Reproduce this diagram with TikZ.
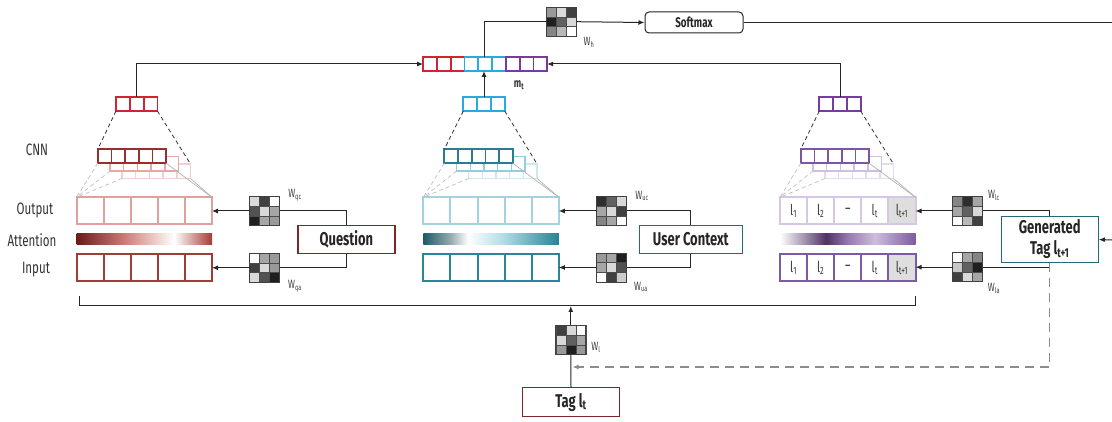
\documentclass[tikz,border=0pt]{standalone}
\usepackage{fontspec}
\setmainfont{Fira Sans}[FakeStretch=0.7]
\usetikzlibrary{arrows.meta}

\definecolor{rTop}{RGB}{210,35,50}
\definecolor{rC1}{RGB}{155,45,45}
\definecolor{rC2}{RGB}{228,168,165}
\definecolor{rC3}{RGB}{242,208,205}
\definecolor{rOut}{RGB}{225,160,155}
\definecolor{rIn}{RGB}{160,60,55}
\definecolor{rBox}{RGB}{125,40,40}
\definecolor{rA1}{RGB}{105,28,28}
\definecolor{rA2}{RGB}{200,120,115}
\definecolor{rA3}{RGB}{238,205,200}
\definecolor{rA4}{RGB}{165,60,55}

\definecolor{bTop}{RGB}{40,170,225}
\definecolor{bC1}{RGB}{40,125,145}
\definecolor{bC2}{RGB}{150,205,220}
\definecolor{bC3}{RGB}{205,232,240}
\definecolor{bOut}{RGB}{160,212,225}
\definecolor{bIn}{RGB}{40,135,155}
\definecolor{bBox}{RGB}{35,105,120}
\definecolor{bA1}{RGB}{30,90,105}
\definecolor{bA2}{RGB}{150,170,175}
\definecolor{bA3}{RGB}{175,218,228}
\definecolor{bA4}{RGB}{40,130,150}

\definecolor{pTop}{RGB}{120,60,160}
\definecolor{pC1}{RGB}{125,85,165}
\definecolor{pC2}{RGB}{205,192,225}
\definecolor{pC3}{RGB}{228,220,238}
\definecolor{pOut}{RGB}{212,200,228}
\definecolor{pIn}{RGB}{125,90,165}
\definecolor{pA1}{RGB}{80,50,100}
\definecolor{pA2}{RGB}{150,120,175}
\definecolor{pA3}{RGB}{205,190,220}
\definecolor{pA4}{RGB}{125,90,160}
\definecolor{cellgray}{RGB}{222,222,222}

\pgfdeclarehorizontalshading{shq}{100bp}{color(0bp)=(rA1); color(25bp)=(rA1); color(42bp)=(rA2); color(54bp)=(rA3); color(61bp)=(white); color(75bp)=(rA4); color(100bp)=(rA4)}
\pgfdeclarehorizontalshading{shu}{100bp}{color(0bp)=(bA1); color(25bp)=(bA1); color(35bp)=(bA2); color(41.5bp)=(white); color(55bp)=(bA3); color(75bp)=(bA4); color(100bp)=(bA4)}
\pgfdeclarehorizontalshading{shl}{100bp}{color(0bp)=(white); color(25bp)=(white); color(42bp)=(pA1); color(50bp)=(pA2); color(60bp)=(pA3); color(75bp)=(pA4); color(100bp)=(pA4)}

\newcommand{\wmat}[4]{%
 \node[wbox] (#1) at (#2,#3) {};
 \foreach \vv [count=\ii from 0] in {#4}{%
  \pgfmathtruncatemacro{\mrow}{\ii/3}%
  \pgfmathtruncatemacro{\mcol}{\ii-3*\mrow}%
  \filldraw[fill=black!\vv, draw=black!70, line width=0.5pt] ({#2-15+10*\mcol},{#3-14.5+9.667*\mrow}) rectangle ++(10,9.667);
 }%
 \draw[black!75, line width=0.9pt] (#1.north west) rectangle (#1.south east);
}
\newcommand{\vecn}[7]{%
 \node[inner sep=0pt,outer sep=0pt,minimum width={#4*#5*1pt},minimum height={#6*1pt},anchor=north west] (#1) at (#2,#3) {};
 \foreach \kk in {1,...,#4}{\draw[#7] ({#2+(\kk-1)*#5},#3) rectangle ({#2+\kk*#5},{#3+#6});}
}

\tikzset{
 arr/.style={-{Latex[length=6pt,width=5pt]}, line width=1pt, draw=black!85},
 conn/.style={line width=1pt, draw=black!85},
 wbox/.style={inner sep=0pt, outer sep=0pt, minimum width=30pt, minimum height=29pt},
 lbl/.style={font=\fontsize{16.5}{17}\selectfont, text=black!80, inner sep=0pt},
 wlbl/.style={font=\fontsize{12}{13}\selectfont, text=black!75, inner sep=0pt},
 cell/.style={font=\fontsize{15}{16}\selectfont, text=black!80, inner sep=0pt},
 tbox/.style={draw, line width=1.2pt, fill=white, font=\fontsize{18.5}{21}\selectfont\bfseries, text=black!85, inner sep=0pt},
 cnndash/.style={dash pattern=on 4pt off 3pt, line width=0.8pt, draw=black!80},
 ltdash/.style={dash pattern=on 4pt off 3pt, line width=0.7pt, draw=black!25},
 ltline/.style={line width=0.7pt, draw=black!30},
 gdash/.style={dash pattern=on 9pt off 6pt, line width=1.2pt, draw=black!45},
 bar/.style={inner sep=0pt, outer sep=0pt, minimum width=135.5pt, minimum height=11pt, anchor=north west, shade},
}

\begin{document}
\begin{tikzpicture}[x=1pt,y=-1pt]
\useasboundingbox (0,0) rectangle (1112,422);

% ---------- labels left ----------
\node[lbl] (lcnn) at (37,150) {CNN};
\node[lbl] (lout) at (35,210) {Output};
\node[lbl] (latt) at (32,240.5) {Attention};
\node[lbl] (lin) at (36,269.5) {Input};

% ---------- column nodes ----------
\vecn{outq}{76.5}{197.3}{5}{27.1}{27}{draw=rOut, line width=2pt}
\vecn{inq}{76.5}{254}{5}{27.1}{27}{draw=rIn, line width=2pt}
\node[bar, shading=shq] (barq) at (76.5,234) {};

\vecn{outu}{423.3}{197.3}{5}{27.1}{27}{draw=bOut, line width=2pt}
\vecn{inu}{423.3}{254}{5}{27.1}{27}{draw=bIn, line width=2pt}
\node[bar, shading=shu] (baru) at (423.3,234) {};

\vecn{outl}{780}{197.3}{5}{27.1}{27}{draw=pOut, line width=2pt}
\filldraw[fill=cellgray, draw=pOut, line width=2pt] (888.4,197.3) rectangle (915.5,224.3);
\vecn{inl}{780}{254}{5}{27.1}{27}{draw=pIn, line width=2pt}
\filldraw[fill=cellgray, draw=pIn, line width=2pt] (888.4,254) rectangle (915.5,281);
\node[bar, shading=shl] (barl) at (780,234) {};

\foreach \xx/\tt [count=\nn] in {793.55/l\textsubscript{1}, 820.65/l\textsubscript{2}, 847.75/--, 874.85/l\textsubscript{t}, 901.95/l\textsubscript{t+1}}{
  \node[cell] (po\nn) at (\xx,211) {\tt};
  \node[cell] (pi\nn) at (\xx,267.8) {\tt};
}

% ---------- CNN stacks ----------
\vecn{cq3}{122}{164}{5}{13.7}{14.5}{draw=rC3, fill=white, line width=1.5pt}
\vecn{cq2}{110}{156.5}{5}{13.7}{14.5}{draw=rC2, fill=white, line width=1.5pt}
\vecn{cq1}{97.7}{149.3}{5}{13.7}{14}{draw=rC1, fill=white, line width=1.8pt}

\vecn{cu3}{468.6}{164}{5}{13.7}{14.5}{draw=bC3, fill=white, line width=1.5pt}
\vecn{cu2}{456.6}{156.5}{5}{13.7}{14.5}{draw=bC2, fill=white, line width=1.5pt}
\vecn{cu1}{444.3}{149.3}{5}{13.7}{14}{draw=bC1, fill=white, line width=1.8pt}

\vecn{cl3}{825}{164}{5}{13.7}{14.5}{draw=pC3, fill=white, line width=1.5pt}
\vecn{cl2}{813}{156.5}{5}{13.7}{14.5}{draw=pC2, fill=white, line width=1.5pt}
\vecn{cl1}{800.7}{149.3}{5}{13.7}{14}{draw=pC1, fill=white, line width=1.8pt}

% light lines CNN -> output
\foreach \cc/\oo in {cq/outq, cu/outu, cl/outl}{
  \draw[ltdash] (\cc1.south west) -- (\oo.north west);
  \draw[ltdash] (\cc2.south west) -- (\oo.north west);
  \draw[ltdash] (\cc3.south west) -- (\oo.north west);
  \draw[ltline] (\cc1.south east) -- (\oo.north east);
  \draw[ltline] (\cc3.south east) -- (\oo.north east);
}

% ---------- top vectors ----------
\vecn{topq}{116}{97}{3}{13.8}{14}{draw=rTop, fill=white, line width=1.8pt}
\vecn{topu}{463.3}{97}{3}{13.8}{14}{draw=bTop, fill=white, line width=1.8pt}
\vecn{topl}{819.3}{97}{3}{13.8}{14}{draw=pTop, fill=white, line width=1.8pt}

\draw[cnndash] (topq.south west) -- (cq1.north west);
\draw[cnndash] (topq.south east) -- (cq3.north east);
\draw[cnndash] (topu.south west) -- (cu1.north west);
\draw[cnndash] (topu.south east) -- (cu3.north east);
\draw[cnndash] (topl.south west) -- (cl1.north west);
\draw[cnndash] (topl.south east) -- (cl3.north east);

% ---------- m_t ----------
\node[inner sep=0pt, outer sep=0pt, minimum width=124.2pt, minimum height=14pt, anchor=north west] (mt) at (423,57) {};
\foreach \col [count=\kk] in {rTop,rTop,rTop,bTop,bTop,bTop,pTop,pTop,pTop}
  \draw[draw=\col, line width=1.8pt, fill=white] ({423+(\kk-1)*13.8},57) rectangle ({423+\kk*13.8},71);
\node[font=\fontsize{12.5}{13}\selectfont\bfseries, text=black!80, inner sep=0pt] (mtl) at (519,85) {m\textsubscript{t}};

% ---------- W matrices ----------
\wmat{wh}{561.5}{21.7}{40,15,75,88,62,15,48,28,0}
\wmat{wqc}{264.5}{211}{15,75,0,68,15,35,88,35,40}
\wmat{wqa}{264.5}{267.8}{0,35,40,75,15,40,15,68,88}
\wmat{wuc}{611.7}{211}{82,62,15,35,15,75,48,35,0}
\wmat{wua}{611.7}{267.5}{40,35,88,35,15,68,0,75,20}
\wmat{wlc}{967.7}{211}{48,82,35,35,62,15,0,28,75}
\wmat{wla}{967.7}{267.2}{0,35,48,22,62,88,75,15,35}
\wmat{wl}{570.8}{340}{75,15,0,15,62,35,40,88,40}

\node[wlbl] (lwh) at (589,42) {W\textsubscript{h}};
\node[wlbl] (lwqc) at (295,195) {W\textsubscript{qc}};
\node[wlbl] (lwqa) at (295,286) {W\textsubscript{qa}};
\node[wlbl] (lwuc) at (642,196) {W\textsubscript{uc}};
\node[wlbl] (lwua) at (641,287) {W\textsubscript{ua}};
\node[wlbl] (lwlc) at (994,195) {W\textsubscript{lc}};
\node[wlbl] (lwla) at (994,288) {W\textsubscript{la}};
\node[wlbl] (lwl) at (596,347) {W\textsubscript{l}};

% ---------- boxes ----------
\node[tbox, rounded corners=4pt, line width=1pt, draw=black!85, minimum width=98pt, minimum height=21pt, font=\fontsize{14}{15}\selectfont\bfseries] (softmax) at (694,22.5) {Softmax};
\node[tbox, draw=rBox, minimum width=97pt, minimum height=28pt] (question) at (346.4,239.2) {Question};
\node[tbox, draw=bBox, minimum width=103pt, minimum height=28pt] (uctx) at (690.8,239.2) {User Context};
\node[tbox, draw=bBox, minimum width=97pt, minimum height=45.6pt, align=center] (gen) at (1049.7,239.5) {Generated\\Tag l\textsubscript{t+1}};
\node[tbox, draw=rBox, minimum width=96.6pt, minimum height=29pt] (taglt) at (571,402.2) {Tag l\textsubscript{t}};

% ---------- connectors ----------
\draw[arr] (topq.north) |- (mt.west);
\draw[arr] (topl.north) |- (mt.east);
\draw[arr] (topu.north) -- (topu.north |- mt.south);
\draw[conn] (topu.north |- mt.north) |- (wh.west);
\draw[arr] (wh.east) -- (softmax.west);
\coordinate (outR) at (1112,22.5);
\draw[conn] (softmax.east) -- (outR);

\draw[arr] (wqc.west) -- (wqc.west -| outq.east);
\draw[arr] (wqa.west) -- (wqa.west -| inq.east);
\draw[conn] (wqc.east) -| (question.north);
\draw[conn] (wqa.east) -| (question.south);

\draw[arr] (wuc.west) -- (wuc.west -| outu.east);
\draw[arr] (wua.west) -- (wua.west -| inu.east);
\draw[conn] (wuc.east) -| (uctx.north);
\draw[conn] (wua.east) -| (uctx.south);

\draw[arr] (wlc.west) -- (wlc.west -| outl.east);
\draw[arr] (wla.west) -- (wla.west -| inl.east);
\draw[conn] (wlc.east) -| (gen.north);
\draw[conn] (wla.east) -| (gen.south);

\coordinate (rin) at (1112,240);
\draw[arr] (rin) -- (gen.east);

\coordinate (dy) at (0,367);
\draw[gdash, -{Latex[length=6pt,width=5pt]}] (gen.south) |- ([xshift=1.5pt]taglt.north |- dy);

\draw[conn] (taglt.north) -- (wl.south);
\coordinate (brk) at (570.8,306);
\draw[arr] (wl.north) -- (brk);
\draw[conn] (79,296) -- (79,306) -- (915,306) -- (915,296);

\end{tikzpicture}
\end{document}
